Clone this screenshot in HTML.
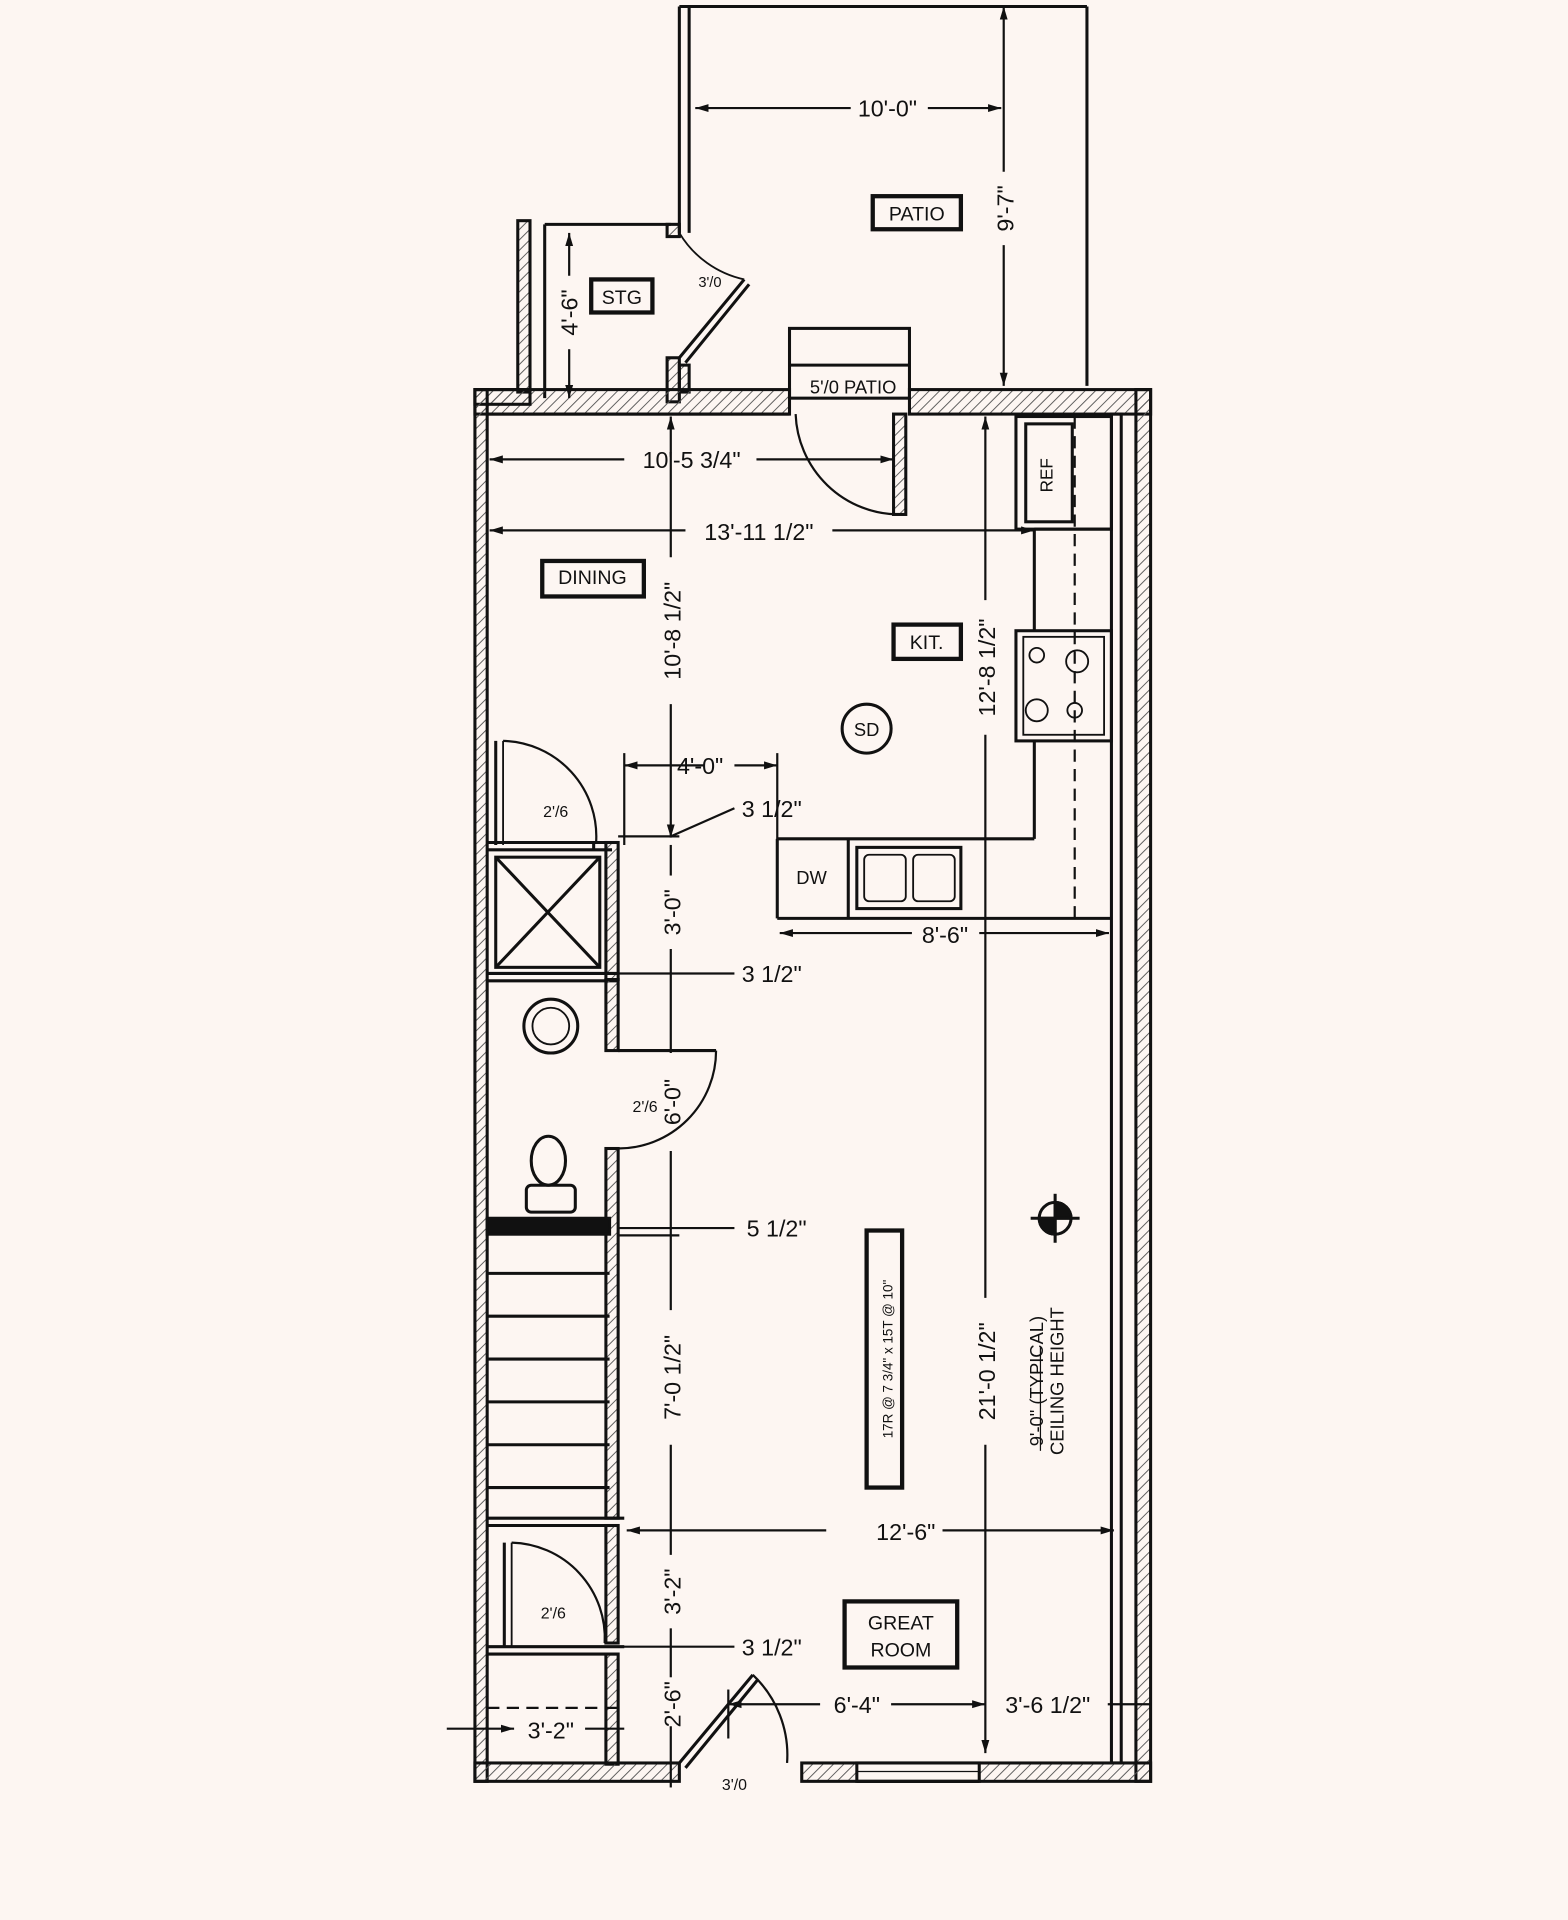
<!DOCTYPE html>
<html><head><meta charset="utf-8"><style>
html,body{margin:0;padding:0;background:#fdf6f2;}
svg{display:block}
text{font-family:"Liberation Sans",Arial,sans-serif;fill:#111;}
</style></head><body>
<svg width="1568" height="1920" viewBox="0 0 1281 1568" xmlns="http://www.w3.org/2000/svg">
<defs>
<pattern id="h" width="6" height="6" patternUnits="userSpaceOnUse" patternTransform="rotate(45)"><line x1="0" y1="0" x2="0" y2="6" stroke="#555" stroke-width="1.5"/></pattern>
<marker id="a" viewBox="0 0 10 10" refX="10" refY="5" markerWidth="6" markerHeight="6" orient="auto-start-reverse"><path d="M0,2 L10,5 L0,8z" fill="#111"/></marker>
</defs>
<rect width="1281" height="1568" fill="#fdf6f2"/>
<g stroke="#111" stroke-width="2.5" fill="none">
<!-- patio -->
<line x1="555" y1="5" x2="555" y2="190"/><line x1="563" y1="5" x2="563" y2="190"/>
<line x1="555" y1="5" x2="888" y2="5"/><line x1="888" y1="5" x2="888" y2="315"/>
<!-- STG -->
<rect x="423" y="180" width="10" height="140" fill="url(#h)"/>
<line x1="445" y1="183" x2="445" y2="325"/><line x1="445" y1="183" x2="548" y2="183"/>
<rect x="545" y="183" width="10" height="10" fill="url(#h)"/>
<rect x="545" y="292" width="10" height="36" fill="url(#h)"/>
<rect x="555" y="298" width="8" height="22" fill="url(#h)"/>
<line x1="555" y1="292" x2="608" y2="228"/><line x1="560" y1="296" x2="612" y2="232"/>
<path d="M608,228 A82,82 0 0 1 555,190" stroke-width="1.5"/>
<!-- top wall -->
<rect x="388" y="318" width="257" height="20" fill="url(#h)"/>
<rect x="388" y="318" width="45" height="12" fill="url(#h)"/>
<rect x="743" y="318" width="197" height="20" fill="url(#h)"/>
<line x1="398" y1="338" x2="645" y2="338"/>
<!-- window 5/0 patio -->
<rect x="645" y="268" width="98" height="57"/><line x1="645" y1="298" x2="743" y2="298"/>
<!-- patio door -->
<rect x="730" y="338" width="10" height="82" fill="url(#h)"/>
<path d="M650,338 A85,85 0 0 0 735,420" stroke-width="1.8"/>
<!-- left wall -->
<rect x="388" y="318" width="10" height="1137" fill="url(#h)"/>
<!-- right wall -->
<rect x="908" y="338" width="8" height="1102"/>
<rect x="928" y="318" width="12" height="1137" fill="url(#h)"/>
<!-- REF -->
<rect x="830" y="340" width="78" height="92"/><rect x="838" y="346" width="38" height="80"/>
<!-- counter -->
<line x1="878" y1="340" x2="878" y2="750" stroke-dasharray="10,6" stroke-width="1.8"/>
<line x1="845" y1="432" x2="845" y2="515"/><line x1="845" y1="432" x2="908" y2="432"/>
<rect x="830" y="515" width="78" height="90"/><rect x="836" y="520" width="66" height="80" stroke-width="1.5"/>
<circle cx="847" cy="535" r="6" stroke-width="1.5"/><circle cx="880" cy="540" r="9" stroke-width="1.5"/>
<circle cx="847" cy="580" r="9" stroke-width="1.5"/><circle cx="878" cy="580" r="6" stroke-width="1.5"/>
<line x1="845" y1="605" x2="845" y2="685"/><line x1="635" y1="685" x2="845" y2="685"/>
<line x1="635" y1="685" x2="635" y2="750"/><line x1="635" y1="750" x2="908" y2="750"/>
<line x1="693" y1="685" x2="693" y2="750"/>
<rect x="700" y="692" width="85" height="50"/><rect x="706" y="698" width="34" height="38" rx="4" stroke-width="1.5"/><rect x="746" y="698" width="34" height="38" rx="4" stroke-width="1.5"/>
<!-- SD -->
<circle cx="708" cy="595" r="20"/>
<!-- coat closet -->
<line x1="405" y1="605" x2="405" y2="690"/><line x1="411" y1="605" x2="411" y2="690" stroke-width="1.5"/>
<path d="M411,605 A78,78 0 0 1 487,688" stroke-width="1.8"/>
<line x1="398" y1="688" x2="505" y2="688"/><line x1="398" y1="694" x2="500" y2="694"/>
<rect x="405" y="700" width="85" height="90"/><line x1="405" y1="700" x2="490" y2="790"/><line x1="490" y1="700" x2="405" y2="790"/>
<line x1="485" y1="688" x2="485" y2="694"/>
<rect x="495" y="688" width="10" height="112" fill="url(#h)"/>
<line x1="398" y1="795" x2="505" y2="795"/><line x1="398" y1="801" x2="505" y2="801"/>
<!-- bath -->
<rect x="495" y="800" width="10" height="58" fill="url(#h)"/>
<line x1="505" y1="858" x2="585" y2="858"/>
<path d="M585,858 A80,80 0 0 1 505,938" stroke-width="1.8"/>
<rect x="495" y="938" width="10" height="302" fill="url(#h)"/>
<circle cx="450" cy="838" r="22"/><circle cx="450" cy="838" r="15" stroke-width="1.5"/>
<ellipse cx="448" cy="948" rx="14" ry="20"/><rect x="430" y="968" width="40" height="22" rx="4"/>
<rect x="398" y="995" width="100" height="13" fill="#111"/>
<!-- stairs -->
<line x1="398" y1="1040" x2="498" y2="1040"/><line x1="398" y1="1075" x2="498" y2="1075"/>
<line x1="398" y1="1110" x2="498" y2="1110"/><line x1="398" y1="1145" x2="498" y2="1145"/>
<line x1="398" y1="1180" x2="498" y2="1180"/><line x1="398" y1="1215" x2="498" y2="1215"/>
<line x1="398" y1="1240" x2="510" y2="1240"/><line x1="398" y1="1246" x2="505" y2="1246"/>
<rect x="708" y="1005" width="29" height="210" stroke-width="3.5"/>
<!-- closet 2 -->
<line x1="412" y1="1260" x2="412" y2="1345"/><line x1="418" y1="1260" x2="418" y2="1345" stroke-width="1.5"/>
<path d="M418,1260 A78,78 0 0 1 494,1342" stroke-width="1.8"/>
<rect x="495" y="1246" width="10" height="96" fill="url(#h)"/>
<line x1="398" y1="1345" x2="510" y2="1345"/><line x1="398" y1="1351" x2="505" y2="1351"/>
<rect x="495" y="1351" width="10" height="90" fill="url(#h)"/>
<line x1="398" y1="1395" x2="505" y2="1395" stroke-dasharray="10,6" stroke-width="1.8"/>
<rect x="690" y="1308" width="92" height="54" stroke-width="3.5"/>
<!-- entry door -->
<line x1="555" y1="1440" x2="615" y2="1368"/><line x1="560" y1="1444" x2="619" y2="1372"/>
<path d="M615,1368 A90,90 0 0 1 643,1440" stroke-width="1.8"/>
<!-- bottom wall -->
<rect x="388" y="1440" width="167" height="15" fill="url(#h)"/>
<rect x="655" y="1440" width="285" height="15" fill="url(#h)"/>
<rect x="700" y="1440" width="100" height="15" fill="#fdf6f2"/>
<line x1="700" y1="1440" x2="800" y2="1440"/><line x1="700" y1="1455" x2="800" y2="1455"/>
<line x1="700" y1="1447" x2="800" y2="1447" stroke-width="1"/>
<!-- label boxes -->
<rect x="713" y="160" width="72" height="27" stroke-width="3.5"/>
<rect x="483" y="228" width="50" height="27" stroke-width="3.5"/>
<rect x="443" y="458" width="83" height="29" stroke-width="3.5"/>
<rect x="730" y="510" width="55" height="28" stroke-width="3.5"/>
<!-- crosshair -->
<circle cx="862" cy="995" r="13"/><line x1="842" y1="995" x2="882" y2="995"/><line x1="862" y1="975" x2="862" y2="1015"/>
<path d="M862,995 L862,982 A13,13 0 0 1 875,995z M862,995 L862,1008 A13,13 0 0 1 849,995z" fill="#111"/>
</g>
<!-- dimension lines -->
<g stroke="#111" stroke-width="1.8" fill="none">
<line x1="568" y1="88" x2="695" y2="88" marker-start="url(#a)"/><line x1="758" y1="88" x2="818" y2="88" marker-end="url(#a)"/>
<line x1="820" y1="5" x2="820" y2="140" marker-start="url(#a)"/><line x1="820" y1="200" x2="820" y2="315" marker-end="url(#a)"/>
<line x1="465" y1="190" x2="465" y2="225" marker-start="url(#a)"/><line x1="465" y1="285" x2="465" y2="325" marker-end="url(#a)"/>
<line x1="400" y1="375" x2="510" y2="375" marker-start="url(#a)"/><line x1="618" y1="375" x2="730" y2="375" marker-end="url(#a)"/>
<line x1="400" y1="433" x2="560" y2="433" marker-start="url(#a)"/><line x1="680" y1="433" x2="845" y2="433" marker-end="url(#a)"/>
<line x1="548" y1="340" x2="548" y2="455" marker-start="url(#a)"/><line x1="548" y1="575" x2="548" y2="684" marker-end="url(#a)"/>
<line x1="548" y1="690" x2="548" y2="715"/><line x1="548" y1="775" x2="548" y2="860"/><line x1="548" y1="940" x2="548" y2="1070"/><line x1="548" y1="1180" x2="548" y2="1270"/><line x1="548" y1="1330" x2="548" y2="1370"/><line x1="548" y1="1410" x2="548" y2="1460"/>
<line x1="510" y1="625" x2="575" y2="625" marker-start="url(#a)"/><line x1="600" y1="625" x2="635" y2="625" marker-end="url(#a)"/>
<line x1="510" y1="615" x2="510" y2="690"/><line x1="635" y1="615" x2="635" y2="690"/>
<line x1="505" y1="683" x2="555" y2="683"/><line x1="548" y1="683" x2="600" y2="660"/>
<line x1="505" y1="795" x2="600" y2="795"/>
<line x1="505" y1="1003" x2="600" y2="1003"/><line x1="505" y1="1009" x2="555" y2="1009"/>
<line x1="505" y1="1345" x2="600" y2="1345"/>
<line x1="805" y1="340" x2="805" y2="490" marker-start="url(#a)"/><line x1="805" y1="600" x2="805" y2="1060"/><line x1="805" y1="1180" x2="805" y2="1432" marker-end="url(#a)"/>
<line x1="637" y1="762" x2="745" y2="762" marker-start="url(#a)"/><line x1="800" y1="762" x2="906" y2="762" marker-end="url(#a)"/>
<line x1="512" y1="1250" x2="675" y2="1250" marker-start="url(#a)"/><line x1="770" y1="1250" x2="910" y2="1250" marker-end="url(#a)"/>
<line x1="595" y1="1392" x2="670" y2="1392" marker-start="url(#a)"/><line x1="728" y1="1392" x2="805" y2="1392" marker-end="url(#a)"/>
<line x1="595" y1="1380" x2="595" y2="1420"/><line x1="905" y1="1392" x2="940" y2="1392"/>
<line x1="365" y1="1412" x2="420" y2="1412" marker-end="url(#a)"/><line x1="478" y1="1412" x2="510" y2="1412"/>
<line x1="850" y1="1100" x2="850" y2="1185" stroke-width="1"/>
</g>
<g font-size="19">
<text x="725" y="95" text-anchor="middle">10'-0"</text>
<text transform="translate(828,170) rotate(-90)" text-anchor="middle">9'-7"</text>
<text x="749" y="180" text-anchor="middle" font-size="16">PATIO</text>
<text transform="translate(472,255) rotate(-90)" text-anchor="middle">4'-6"</text>
<text x="508" y="248" text-anchor="middle" font-size="16">STG</text>
<text x="580" y="234" text-anchor="middle" font-size="12">3'/0</text>
<text x="697" y="321" text-anchor="middle" font-size="15">5'/0 PATIO</text>
<text x="565" y="382" text-anchor="middle">10'-5 3/4"</text>
<text x="620" y="441" text-anchor="middle">13'-11 1/2"</text>
<text x="484" y="477" text-anchor="middle" font-size="16">DINING</text>
<text transform="translate(556,515) rotate(-90)" text-anchor="middle">10'-8 1/2"</text>
<text x="757" y="530" text-anchor="middle" font-size="16">KIT.</text>
<text transform="translate(813,545) rotate(-90)" text-anchor="middle">12'-8 1/2"</text>
<text x="708" y="601" text-anchor="middle" font-size="15">SD</text>
<text x="855" y="393" text-anchor="middle" font-size="14" transform="rotate(-90 855 388)">REF</text>
<text x="572" y="632" text-anchor="middle">4'-0"</text>
<text x="606" y="667">3 1/2"</text>
<text x="454" y="667" text-anchor="middle" font-size="13">2'/6</text>
<text x="663" y="722" text-anchor="middle" font-size="15">DW</text>
<text transform="translate(556,745) rotate(-90)" text-anchor="middle">3'-0"</text>
<text x="772" y="770" text-anchor="middle">8'-6"</text>
<text x="606" y="802">3 1/2"</text>
<text x="527" y="908" text-anchor="middle" font-size="13">2'/6</text>
<text transform="translate(556,900) rotate(-90)" text-anchor="middle">6'-0"</text>
<text x="610" y="1010">5 1/2"</text>
<text transform="translate(729,1110) rotate(-90)" text-anchor="middle" font-size="11">17R @ 7 3/4" x 15T @ 10"</text>
<text transform="translate(556,1125) rotate(-90)" text-anchor="middle">7'-0 1/2"</text>
<text transform="translate(813,1120) rotate(-90)" text-anchor="middle">21'-0 1/2"</text>
<text transform="translate(852,1128) rotate(-90)" text-anchor="middle" font-size="15">9'-0" (TYPICAL)</text>
<text transform="translate(869,1128) rotate(-90)" text-anchor="middle" font-size="15">CEILING HEIGHT</text>
<text x="740" y="1258" text-anchor="middle">12'-6"</text>
<text x="452" y="1322" text-anchor="middle" font-size="13">2'/6</text>
<text transform="translate(556,1300) rotate(-90)" text-anchor="middle">3'-2"</text>
<text x="606" y="1352">3 1/2"</text>
<text x="736" y="1331" text-anchor="middle" font-size="16">GREAT</text>
<text x="736" y="1353" text-anchor="middle" font-size="16">ROOM</text>
<text transform="translate(556,1392) rotate(-90)" text-anchor="middle">2'-6"</text>
<text x="700" y="1399" text-anchor="middle">6'-4"</text>
<text x="856" y="1399" text-anchor="middle">3'-6 1/2"</text>
<text x="450" y="1420" text-anchor="middle">3'-2"</text>
<text x="600" y="1462" text-anchor="middle" font-size="13">3'/0</text>
</g>
</svg>
</body></html>
